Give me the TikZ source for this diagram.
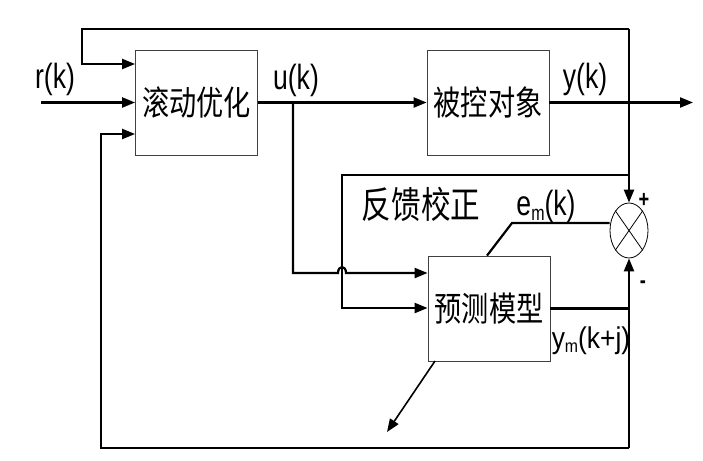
\documentclass[tikz,border=0pt]{standalone}
\usepackage{fontspec}
\newfontfamily\cjk[FakeStretch=0.8]{Noto Sans CJK SC}
\newfontfamily\lat[FakeStretch=0.76]{Liberation Sans}
\newfontfamily\latw[FakeStretch=0.88]{Liberation Sans}
\usetikzlibrary{arrows.meta,shapes.geometric,calc}
\begin{document}
\begin{tikzpicture}[x=1pt,y=-1pt,
  blk/.style={draw=black!75,line width=0.8pt,minimum width=122pt,minimum height=105pt,inner sep=0pt,font=\cjk\fontsize{34}{34}\selectfont},
  wire/.style={line width=2.2pt},
  arr/.style={wire,-{Triangle[length=13pt,width=10pt]}},
  lbl/.style={inner sep=0pt,font=\lat\fontsize{35}{35}\selectfont},
  sumnode/.style={draw,ellipse,line width=0.8pt,minimum width=38pt,minimum height=55pt,inner sep=0pt}]
\useasboundingbox (0,0) rectangle (703,460);
% blocks
\node[blk] (opt) at (196.5,102.5) {滚动优化};
\node[blk] (plant) at (488,102.5) {被控对象};
\node[blk] (model) at (489,308.5) {预测模型};
\node[sumnode] (sum) at (629,230.5) {};
\draw[line width=0.8pt] (sum.north west) -- (sum.south east) (sum.north east) -- (sum.south west);
% labels
\node[lbl] (rk) at (55,79) {r(k)};
\node[lbl] (uk) at (296,80) {u(k)};
\node[lbl] (yk) at (585,79) {y(k)};
\node[lbl] (ek) at (546,206) {e\raisebox{-5pt}{\fontsize{21}{21}\selectfont m}(k)};
\node[inner sep=0pt,font=\latw\fontsize{30}{30}\selectfont] (ymk) at (591,341) {y\raisebox{-4pt}{\fontsize{18}{18}\selectfont m}(k+j)};
\node[inner sep=0pt,font=\cjk\fontsize{37}{37}\selectfont] (fb) at (421,204) {反馈校正};
\node[inner sep=0pt,font=\lat\bfseries\fontsize{24}{24}\selectfont] (plus) at (644,200) {+};
\node[inner sep=0pt,font=\lat\bfseries\fontsize{24}{24}\selectfont] (minus) at (643,285) {-};
% coordinates
\coordinate (tl) at (82,29);
\coordinate (tr) at (629,29);
\coordinate (tlb) at (82,64);
\coordinate (rin) at (41,102.5);
\coordinate (yout) at (693,102.5);
\coordinate (ub) at (293,102.5);
\coordinate (ubl) at (293,273);
\coordinate (h1) at (338,273);
\coordinate (h2) at (346,273);
\coordinate (fbtr) at (629,175);
\coordinate (fbtl) at (342,175);
\coordinate (fbbl) at (342,308);
\coordinate (br) at (629,448);
\coordinate (bl) at (101,448);
\coordinate (blt) at (101,134);
\coordinate (ek1) at (512,223);
\coordinate (dstart) at (435,361);
\coordinate (dend) at (387,432);
% wires
\draw[arr] (tr) -- (tl) -- (tlb) -- (tlb -| opt.west);
\draw[arr] (tr) -- (sum.north);
\draw[arr] (rin) -- (opt.west);
\draw[arr] (opt.east) -- (plant.west);
\draw[arr] (plant.east) -- (yout);
\draw[arr] (ub) -- (ubl) -- (h1) .. controls ($(h1)+(0,-8)$) and ($(h2)+(0,-8)$) .. (h2) -- (ubl -| model.west);
\draw[arr] (fbtr) -- (fbtl) -- (fbbl) -- (fbbl -| model.west);
\draw[wire] (model.east) -- (model.east -| sum);
\draw[arr] (br) -- (sum.south);
\draw[arr] (br) -- (bl) -- (blt) -- (blt -| opt.west);
\draw[wire] (ek1 -| sum.west) -- (ek1) -- ($(model.north)+(-2,0)$);
\draw[line width=1.6pt,-{Triangle[length=13pt,width=10pt]}] (dstart) -- (dend);
\end{tikzpicture}
\end{document}
